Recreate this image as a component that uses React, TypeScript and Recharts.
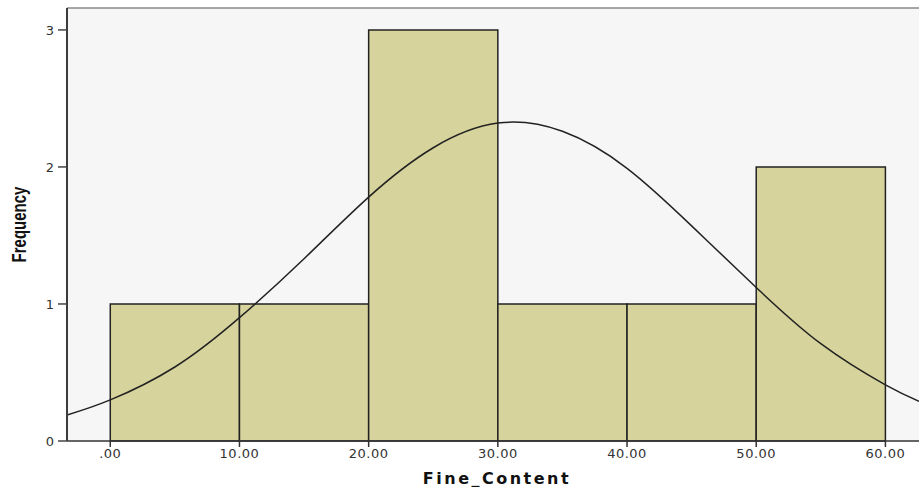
import {
  ComposedChart,
  Line,
  XAxis,
  YAxis,
  CartesianGrid,
  ReferenceArea,
} from "recharts";

// histogram bins (Fine_Content) and their counts
const binEdges = [0, 10, 20, 30, 40, 50, 60];
const frequencies = [1, 1, 3, 1, 1, 2];

// normal curve
const curveX = [-3.35, 0, 5, 10, 15, 20, 25, 30, 35, 40, 45, 50, 55, 60, 62.6];
const curveY = [0.19, 0.3, 0.54, 0.9, 1.33, 1.78, 2.14, 2.32, 2.26, 1.99, 1.57, 1.12, 0.71, 0.41, 0.29];

const xTicks = [0, 10, 20, 30, 40, 50, 60];
const yTicks = [0, 1, 2, 3];
const xDomain = [-3.35, 62.6];
const yDomain = [0, 3.16];

const curveData = curveX.map((x, i) => ({ x, fit: curveY[i] }));

const tickFont = {
  fill: "#333",
  fontSize: 13,
  fontFamily: "DejaVu Sans, sans-serif",
};

const fmtX = (v: number) => (v === 0 ? ".00" : v.toFixed(2));

const YLabel = ({ viewBox }: any) => {
  const cx = viewBox.x + 19;
  const cy = viewBox.y + viewBox.height / 2;
  return (
    <text
      x={0}
      y={0}
      transform={`translate(${cx} ${cy}) rotate(-90) scale(1 1.3)`}
      textAnchor="middle"
      dominantBaseline="central"
      fontFamily="Liberation Sans, Arial, sans-serif"
      fontWeight="bold"
      fontSize={15}
      fill="#111">
      Frequency
    </text>
  );
};

const XLabel = ({ viewBox }: any) => (
  <text
    x={viewBox.x + viewBox.width / 2 + 4}
    y={viewBox.y + 43}
    textAnchor="middle"
    fontFamily="DejaVu Sans, sans-serif"
    fontWeight="bold"
    fontSize={16}
    letterSpacing={2.5}
    fill="#111">
    Fine_Content
  </text>
);

export default function App() {
  return (
    <div style={{ position: "absolute", left: 0, top: 0, width: 919, height: 487, background: "#fff" }}>
      <ComposedChart
        width={919}
        height={487}
        data={curveData}
        margin={{ top: 0, right: 0, bottom: 0, left: 0 }}>
        <CartesianGrid fill="#f6f6f6" stroke="none" horizontal={false} vertical={false} />
        <XAxis
          xAxisId="top"
          orientation="top"
          dataKey="x"
          type="number"
          domain={xDomain}
          allowDataOverflow
          height={8}
          tick={false}
          tickLine={false}
          axisLine={{ stroke: "#888", strokeWidth: 1.5 }}
        />
        <XAxis
          dataKey="x"
          type="number"
          domain={xDomain}
          allowDataOverflow
          ticks={xTicks}
          tickFormatter={fmtX}
          height={46}
          tickSize={6}
          tickMargin={2}
          interval={0}
          tick={{ ...tickFont, letterSpacing: 0.5 }}
          tickLine={{ stroke: "#333", strokeWidth: 1.5 }}
          axisLine={{ stroke: "#333", strokeWidth: 1.5 }}
          label={<XLabel />}
        />
        <YAxis
          type="number"
          domain={yDomain}
          allowDataOverflow
          ticks={yTicks}
          width={67}
          tickSize={9}
          tickMargin={4}
          tick={tickFont}
          tickLine={{ stroke: "#444", strokeWidth: 1.5 }}
          axisLine={{ stroke: "#3c3c3c", strokeWidth: 2 }}
          label={<YLabel />}
        />
        {frequencies.map((f, i) => (
          <ReferenceArea
            key={i}
            x1={binEdges[i]}
            x2={binEdges[i + 1]}
            y1={0}
            y2={f}
            fill="#d7d39c"
            fillOpacity={1}
            stroke="#222"
            strokeWidth={1.5}
          />
        ))}
        <Line
          dataKey="fit"
          type="natural"
          stroke="#222"
          strokeWidth={1.5}
          dot={false}
          activeDot={false}
          isAnimationActive={false}
        />
      </ComposedChart>
    </div>
  );
}
